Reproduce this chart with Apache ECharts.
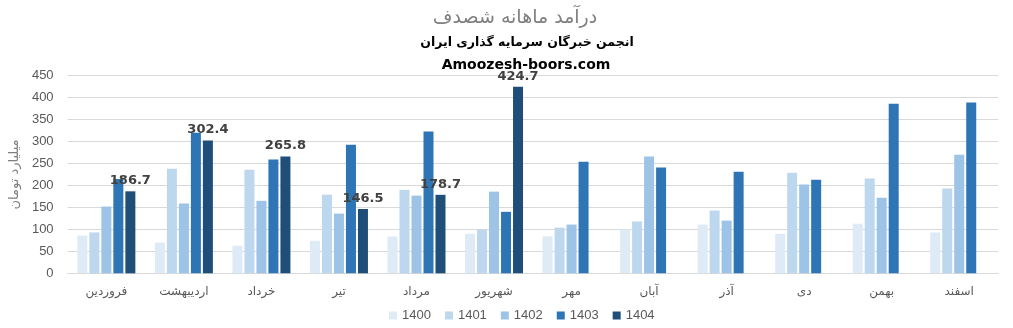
<!DOCTYPE html>
<html><head><meta charset="utf-8">
<script src="https://cdn.jsdelivr.net/npm/echarts@6/dist/echarts.min.js"></script>
<style>html,body{margin:0;padding:0;background:#fff}#c{width:1013px;height:328px}</style>
</head><body><div id="c"></div>
<script>
const categories = ['فروردین','اردیبهشت','خرداد','تیر','مرداد','شهریور','مهر','آبان','آذر','دی','بهمن','اسفند'];
const yearNames = ['1400','1401','1402','1403','1404'];
const s1400 = [86, 70, 63, 74, 84, 90, 84, 100, 111, 90, 113, 93];
const s1401 = [93, 238, 236, 179, 190, 100, 104, 118, 143, 229, 216, 193];
const s1402 = [152, 159, 165, 136, 177, 186, 111, 266, 120, 202, 172, 270];
const s1403 = [215, 320, 259, 293, 323, 140, 254, 241, 231, 213, 386, 389];
const s1404 = [186.7, 302.4, 265.8, 146.5, 178.7, 424.7, null, null, null, null, null, null];
const yTicks = {min: 0, max: 450, interval: 50};
const colors = ['#DEEBF7','#BDD7EE','#9DC3E6','#2E75B6','#1F4E79'];
const allData = [s1400, s1401, s1402, s1403, s1404];

const chart = echarts.init(document.getElementById('c'), null, {renderer: 'canvas'});
const series = allData.map((d, i) => ({
  name: yearNames[i],
  type: 'bar',
  data: d,
  barWidth: 10,
  barGap: '20%',
  itemStyle: {color: colors[i]},
  label: i === 4 ? {
    show: true, position: 'top', distance: 4,
    color: '#404040', fontWeight: 'bold', fontSize: 13,
    fontFamily: 'DejaVu Sans'
  } : {show: false}
}));

chart.setOption({
  animation: false,
  color: colors,
  title: [
    {text: 'درآمد ماهانه شصدف', left: 510, top: 4, textAlign: 'center',
     textStyle: {fontFamily: 'DejaVu Sans', fontSize: 19, fontWeight: 'normal', color: '#7f7f7f'}},
    {text: 'انجمن خبرگان سرمایه گذاری ایران', left: 522, top: 31, textAlign: 'center',
     textStyle: {fontFamily: 'DejaVu Sans', fontSize: 12.5, fontWeight: 'bold', color: '#000'}},
    {text: 'Amoozesh-boors.com', left: 521, top: 53, textAlign: 'center',
     textStyle: {fontFamily: 'DejaVu Sans', fontSize: 14, fontWeight: 'bold', color: '#000'}}
  ],
  legend: {
    data: yearNames, left: 384, top: 304,
    itemWidth: 8, itemHeight: 8, itemGap: 14, icon: 'rect',
    textStyle: {fontFamily: 'Liberation Sans', fontSize: 13, color: '#595959'}
  },
  grid: {left: 66, right: 15, top: 75.7, bottom: 54.7, containLabel: false},
  xAxis: {
    type: 'category', data: categories,
    axisLine: {lineStyle: {color: '#d9d9d9'}},
    axisTick: {show: false},
    axisLabel: {fontFamily: 'DejaVu Sans', fontSize: 12, color: '#595959', margin: 13}
  },
  yAxis: {
    type: 'value', min: yTicks.min, max: yTicks.max, interval: yTicks.interval,
    name: 'میلیارد تومان', nameLocation: 'middle', nameGap: 44, nameRotate: 90,
    nameTextStyle: {fontFamily: 'DejaVu Sans', fontSize: 13, color: '#7f7f7f'},
    axisLine: {show: false}, axisTick: {show: false},
    splitLine: {lineStyle: {color: '#d9d9d9'}},
    axisLabel: {fontFamily: 'Liberation Sans', fontSize: 13, color: '#595959', margin: 14}
  },
  series: series
});
</script></body></html>
